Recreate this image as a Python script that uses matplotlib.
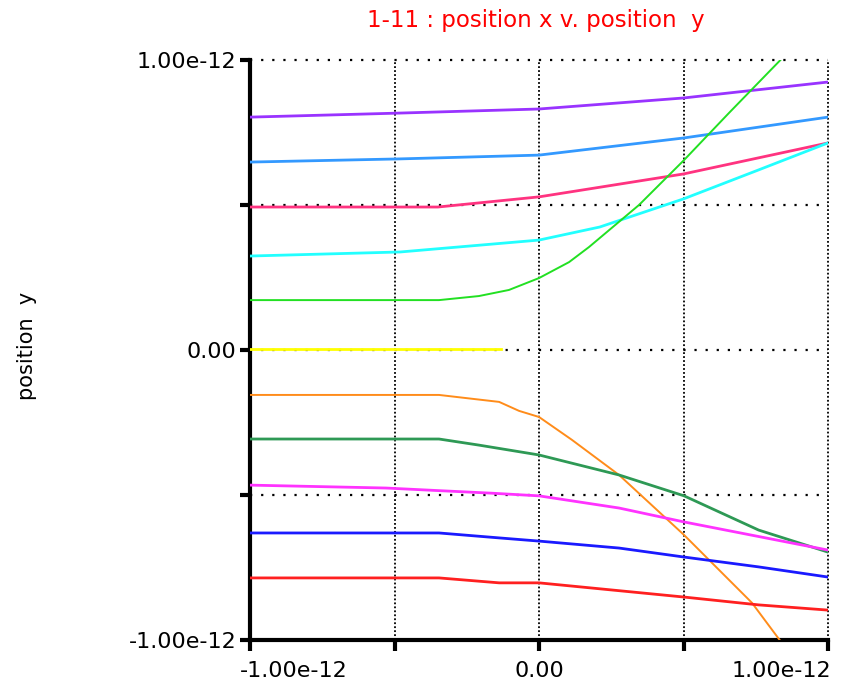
import matplotlib.pyplot as plt
import matplotlib.transforms as mtransforms
import numpy as np

# curve samples, x and y in units of 1e-12
purple_x = [-1.0, -0.48, 0.0, 0.5, 1.0]
purple_y = [0.803, 0.817, 0.831, 0.869, 0.924]

skyblue_x = [-1.0, -0.48, 0.0, 0.5, 1.0]
skyblue_y = [0.648, 0.659, 0.672, 0.731, 0.803]

pink_x = [-1.0, -0.35, 0.0, 0.5, 1.0]
pink_y = [0.493, 0.493, 0.528, 0.607, 0.714]

cyan_x = [-1.0, -0.48, 0.0, 0.21, 0.5, 0.76, 1.0]
cyan_y = [0.324, 0.338, 0.379, 0.424, 0.521, 0.621, 0.714]

green_x = [-1.0, -0.346, -0.208, -0.104, 0.0, 0.104, 0.173, 0.346, 0.502, 0.657, 0.855]
green_y = [0.172, 0.172, 0.186, 0.207, 0.248, 0.303, 0.355, 0.5, 0.655, 0.817, 1.02]

yellow_x = [-1.0, -0.13]
yellow_y = [0.005, 0.005]

orange_x = [-1.0, -0.346, -0.225, -0.138, -0.069, 0.0, 0.114, 0.277, 0.502, 0.737, 0.87]
orange_y = [-0.155, -0.155, -0.169, -0.179, -0.21, -0.231, -0.31, -0.431, -0.638, -0.872, -1.05]

seagreen_x = [-1.0, -0.346, -0.208, -0.104, 0.0, 0.277, 0.502, 0.76, 1.0]
seagreen_y = [-0.307, -0.307, -0.328, -0.345, -0.362, -0.431, -0.503, -0.621, -0.697]

magenta_x = [-1.0, -0.53, -0.346, -0.16, 0.0, 0.277, 0.502, 1.0]
magenta_y = [-0.466, -0.476, -0.485, -0.494, -0.503, -0.545, -0.593, -0.69]

blue_x = [-1.0, -0.346, -0.138, 0.0, 0.277, 0.502, 0.76, 1.0]
blue_y = [-0.631, -0.631, -0.648, -0.659, -0.683, -0.714, -0.748, -0.783]

red_x = [-1.0, -0.346, -0.138, 0.0, 0.502, 0.76, 1.0]
red_y = [-0.786, -0.786, -0.803, -0.803, -0.852, -0.879, -0.897]

tick_vals = [-1.0, -0.5, 0.0, 0.5, 1.0]
x_tick_labels = ['-1.00e-12', '', '0.00', '', '1.00e-12']
y_tick_labels = ['-1.00e-12', '', '0.00', '', '1.00e-12']

curves = [
    (purple_x, purple_y, '#9933ff', 2.0),
    (skyblue_x, skyblue_y, '#3399ff', 2.0),
    (pink_x, pink_y, '#ff3380', 2.0),
    (cyan_x, cyan_y, '#22ffff', 2.0),
    (green_x, green_y, '#22e022', 1.4),
    (yellow_x, yellow_y, '#ffff00', 2.0),
    (orange_x, orange_y, '#ff8c1a', 1.4),
    (seagreen_x, seagreen_y, '#2e9955', 2.0),
    (magenta_x, magenta_y, '#ff33ff', 2.0),
    (blue_x, blue_y, '#1a1aff', 2.0),
    (red_x, red_y, '#ff2020', 2.0),
]

scale = 1e-12
fig = plt.figure(figsize=(8.43, 6.88), dpi=100)
ax = fig.add_axes([0.2966, 0.0698, 0.6856, 0.843])

for xs, ys, col, lw in curves:
    ax.plot(np.array(xs) * scale, np.array(ys) * scale, color=col, lw=lw, zorder=3)

ax.set_xlim(-1e-12, 1e-12)
ax.set_ylim(-1e-12, 1e-12)

# dotted grid, also standing in for the top and right frame
for v in tick_vals[1:]:
    ax.axvline(v * scale, color='black', lw=1.3, ls=(0, (1, 1.2)), zorder=2, clip_on=False)
    ax.axhline(v * scale, color='black', lw=1.6, ls=(0, (1, 4)), zorder=2, clip_on=False)

ax.spines['top'].set_visible(False)
ax.spines['right'].set_visible(False)
ax.spines['left'].set_linewidth(3)
ax.spines['bottom'].set_linewidth(3)

ax.set_xticks(np.array(tick_vals) * scale)
ax.set_xticklabels(x_tick_labels)
ax.set_yticks(np.array(tick_vals) * scale)
ax.set_yticklabels(y_tick_labels)
ax.tick_params(axis='x', length=8, width=3, pad=7, labelsize=16)
ax.tick_params(axis='y', length=7, width=3, pad=3, labelsize=16)

# end labels sit inside the axis span, as in the reference
xlabels = ax.get_xticklabels()
xlabels[0].set_ha('left')
xlabels[0].set_transform(xlabels[0].get_transform()
                         + mtransforms.ScaledTranslation(-0.10, 0, fig.dpi_scale_trans))
xlabels[-1].set_ha('right')
xlabels[-1].set_transform(xlabels[-1].get_transform()
                          + mtransforms.ScaledTranslation(0.03, 0, fig.dpi_scale_trans))

fig.text(27 / 843, 1 - 346 / 688, 'position  y', rotation=90, fontsize=15,
         ha='center', va='center')
fig.text(536 / 843, 1 - 20 / 688, '1-11 : position x v. position  y', color='red',
         fontsize=16.5, ha='center', va='center')

fig.savefig('out.png', dpi=100)
